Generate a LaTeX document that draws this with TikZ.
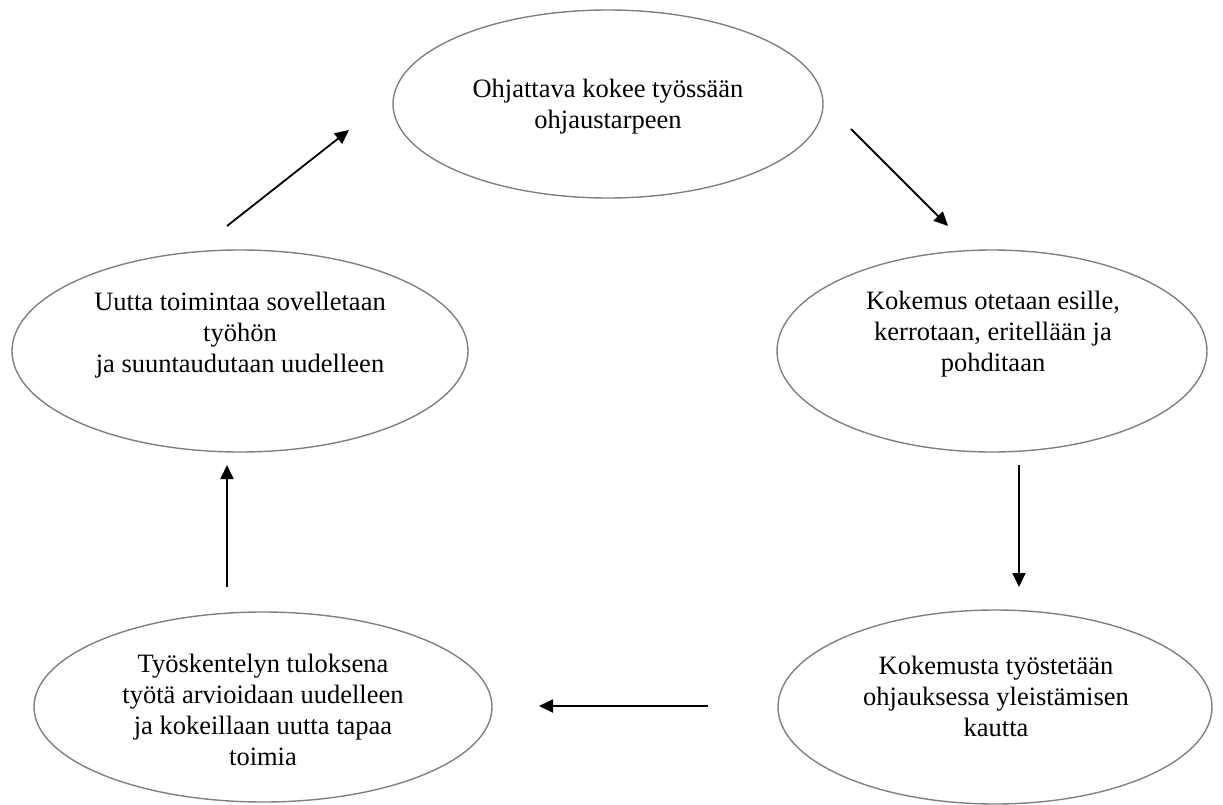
\documentclass[tikz,border=0pt]{standalone}
\usepackage{fontspec}
\setmainfont{Liberation Serif}
\usetikzlibrary{shapes.geometric,arrows.meta}
\definecolor{rim}{RGB}{128,128,128}
\begin{document}
\begin{tikzpicture}[x=1pt,y=-1pt,
  bubble/.style={ellipse, draw=rim, line width=1.4pt, inner sep=0pt},
  caption/.style={align=center, font=\fontsize{26.5}{31}\selectfont, inner sep=0pt},
  flow/.style={line width=1.8pt, -{Triangle[length=14pt,width=13pt]}}]
\useasboundingbox (0,0) rectangle (1223,805);

% the five stages of the cycle
\node[bubble, minimum width=430pt, minimum height=188pt] (b1) at (608,104) {};
\node[bubble, minimum width=430pt, minimum height=202pt] (b2) at (992,351) {};
\node[bubble, minimum width=434pt, minimum height=194pt] (b3) at (995,707) {};
\node[bubble, minimum width=458pt, minimum height=190pt] (b4) at (263,707) {};
\node[bubble, minimum width=456pt, minimum height=202pt] (b5) at (240,351) {};

\node[caption] (t1) at (608,107) {Ohjattava kokee työssään\\ohjaustarpeen};
\node[caption] (t2) at (993,334) {Kokemus otetaan esille,\\kerrotaan, eritellään ja\\pohditaan};
\node[caption] (t3) at (996,696) {Kokemusta työstetään\\ohjauksessa yleistämisen\\kautta};
\node[caption] (t4) at (263,710) {Työskentelyn tuloksena\\työtä arvioidaan uudelleen\\ja kokeillaan uutta tapaa\\toimia};
\node[caption] (t5) at (240,335) {Uutta toimintaa sovelletaan\\työhön\\ja suuntaudutaan uudelleen};

% free-standing arrows between the stages
\coordinate (a1s) at (227,226); \coordinate (a1e) at (349,130);
\coordinate (a2s) at (851,129); \coordinate (a2e) at (948,226);
\coordinate (a3s) at (1019,465); \coordinate (a3e) at (1019,587);
\coordinate (a4s) at (708,706); \coordinate (a4e) at (539,706);
\coordinate (a5s) at (227,587); \coordinate (a5e) at (227,465);

\draw[flow] (a1s) -- (a1e);
\draw[flow] (a2s) -- (a2e);
\draw[flow] (a3s) -- (a3e);
\draw[flow] (a4s) -- (a4e);
\draw[flow] (a5s) -- (a5e);
\end{tikzpicture}
\end{document}
